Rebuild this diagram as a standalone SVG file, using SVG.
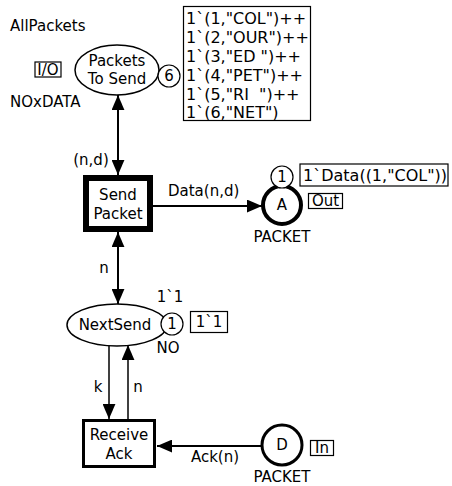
<svg xmlns="http://www.w3.org/2000/svg" width="452" height="486" viewBox="0 0 452 486">
<defs>
<marker id="ah" viewBox="0 0 14 12" refX="14" refY="6" markerWidth="15" markerHeight="13" markerUnits="userSpaceOnUse" orient="auto-start-reverse">
<path d="M0,0 L14,6 L0,12 Z" fill="#000"/>
</marker>
</defs>
<style>
text{font-family:"DejaVu Sans",Verdana,sans-serif;font-size:15px;fill:#000}
.c{text-anchor:middle}
.tok{font-size:16px;white-space:pre}
.arc{stroke:#000;stroke-width:2;fill:none}
.arc2{stroke:#000;stroke-width:1.5;fill:none}
.tag{fill:#fff;stroke:#000;stroke-width:1.2}
</style>
<rect width="452" height="486" fill="#fff"/>
<g id="connectors">
<line class="arc" x1="118" y1="95" x2="118" y2="175" marker-start="url(#ah)" marker-end="url(#ah)"/>
<text class="c" x="91" y="165">(n,d)</text>
<line class="arc" x1="153" y1="206" x2="262" y2="206" marker-end="url(#ah)"/>
<text x="168" y="196">Data(n,d)</text>
<line class="arc" x1="118" y1="232" x2="118" y2="304" marker-start="url(#ah)" marker-end="url(#ah)"/>
<text class="c" x="104" y="273">n</text>
<line class="arc2" x1="109" y1="346" x2="109" y2="419" marker-end="url(#ah)"/>
<text class="c" x="98" y="392">k</text>
<line class="arc2" x1="128" y1="419" x2="128" y2="345" marker-end="url(#ah)"/>
<text class="c" x="138" y="392">n</text>
<line class="arc" x1="262" y1="446" x2="157" y2="446" marker-end="url(#ah)"/>
<text class="c" x="215" y="462">Ack(n)</text>
</g>
<g id="PacketsToSend">
<ellipse cx="117" cy="70" rx="42" ry="25" fill="#fff" stroke="#000" stroke-width="1.5"/>
<text class="c" x="117" y="66">Packets</text>
<text class="c" x="117" y="84">To Send</text>
<circle cx="169" cy="76" r="11" fill="#fff" stroke="#000" stroke-width="1.2"/>
<text class="c" x="169" y="81">6</text>
<text x="10" y="31">AllPackets</text>
<rect class="tag" x="35" y="62" width="26" height="15"/>
<text class="c" x="48" y="75">I/O</text>
<text x="10" y="107">NOxDATA</text>
<rect class="tag" x="183.5" y="6.5" width="127" height="114"/>
<text class="tok" x="186" y="24">1`(1,"COL")++</text>
<text class="tok" x="186" y="43">1`(2,"OUR")++</text>
<text class="tok" x="186" y="62">1`(3,"ED ")++</text>
<text class="tok" x="186" y="81">1`(4,"PET")++</text>
<text class="tok" x="186" y="100" xml:space="preserve">1`(5,"RI  ")++</text>
<text class="tok" x="186" y="118">1`(6,"NET")</text>
</g>
<g id="SendPacket">
<rect x="86" y="178" width="64" height="51" fill="#fff" stroke="#000" stroke-width="6"/>
<text class="c" x="118" y="200">Send</text>
<text class="c" x="118" y="219">Packet</text>
</g>
<g id="A">
<circle cx="282" cy="205" r="19" fill="#fff" stroke="#000" stroke-width="4"/>
<text class="c" x="282" y="210">A</text>
<circle cx="282" cy="177" r="11" fill="#fff" stroke="#000" stroke-width="1.2"/>
<text class="c" x="282" y="182">1</text>
<rect class="tag" x="300" y="164" width="148" height="22"/>
<text class="tok" x="303" y="181">1`Data((1,"COL"))</text>
<rect class="tag" x="308.5" y="193.5" width="34" height="15"/>
<text class="c" x="325.5" y="206">Out</text>
<text class="c" x="282" y="242">PACKET</text>
</g>
<g id="NextSend">
<ellipse cx="117" cy="325" rx="50" ry="21" fill="#fff" stroke="#000" stroke-width="1.5"/>
<text class="c" x="115" y="330">NextSend</text>
<circle cx="172" cy="324" r="11" fill="#fff" stroke="#000" stroke-width="1.2"/>
<text class="c" x="172" y="329">1</text>
<text class="c" x="170" y="302">1`1</text>
<rect class="tag" x="190.5" y="311.5" width="37" height="21"/>
<text class="c" x="209" y="327">1`1</text>
<text class="c" x="168" y="353">NO</text>
</g>
<g id="ReceiveAck">
<rect x="83.5" y="420.5" width="71" height="46" fill="#fff" stroke="#000" stroke-width="3"/>
<text class="c" x="119" y="440">Receive</text>
<text class="c" x="119" y="459">Ack</text>
</g>
<g id="D">
<circle cx="282" cy="445" r="20" fill="#fff" stroke="#000" stroke-width="3"/>
<text class="c" x="282" y="450">D</text>
<rect class="tag" x="310.5" y="440.5" width="23" height="15"/>
<text class="c" x="322" y="453">In</text>
<text class="c" x="282" y="482">PACKET</text>
</g>
</svg>
